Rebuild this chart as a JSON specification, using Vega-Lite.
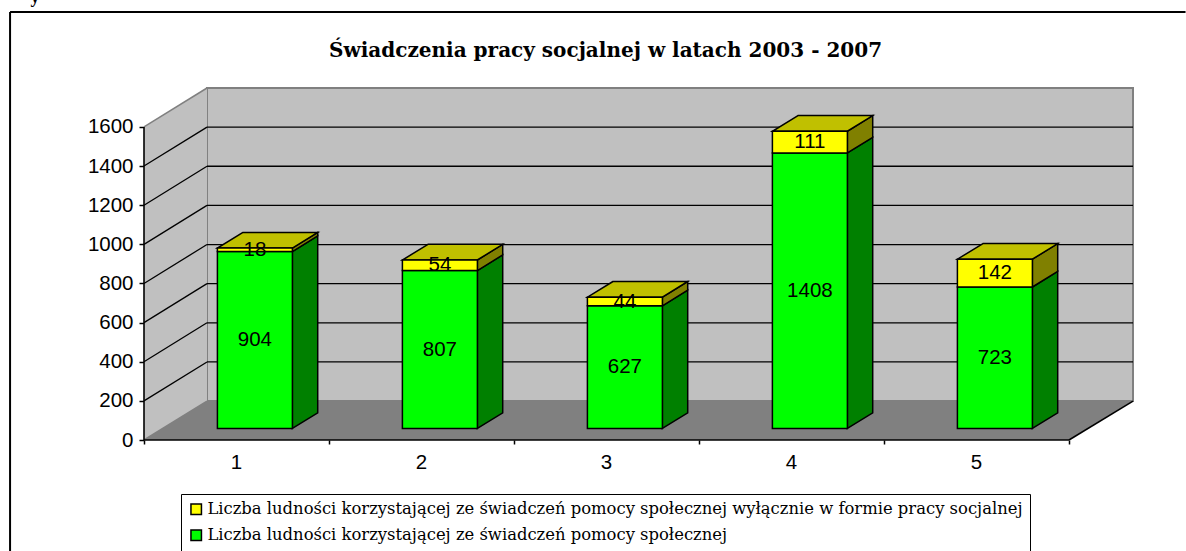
{
"$schema":"https://vega.github.io/schema/vega-lite/v6.json",
"autosize":{"type":"none"},
"padding":{"left":144,"top":88,"right":53,"bottom":111},
"width":989,"height":352,
"background":"white",
"config":{"view":{"stroke":null},"font":"Liberation Sans"},
"datasets":{
"bars":[
{"category":1,"series":"Liczba ludności korzystającej ze świadczeń pomocy społecznej","value":904,"start":0,"end":904,"mid":452},
{"category":1,"series":"Liczba ludności korzystającej ze świadczeń pomocy społecznej wyłącznie w formie pracy socjalnej","value":18,"start":904,"end":922,"mid":913},
{"category":2,"series":"Liczba ludności korzystającej ze świadczeń pomocy społecznej","value":807,"start":0,"end":807,"mid":403.5},
{"category":2,"series":"Liczba ludności korzystającej ze świadczeń pomocy społecznej wyłącznie w formie pracy socjalnej","value":54,"start":807,"end":861,"mid":834},
{"category":3,"series":"Liczba ludności korzystającej ze świadczeń pomocy społecznej","value":627,"start":0,"end":627,"mid":313.5},
{"category":3,"series":"Liczba ludności korzystającej ze świadczeń pomocy społecznej wyłącznie w formie pracy socjalnej","value":44,"start":627,"end":671,"mid":649},
{"category":4,"series":"Liczba ludności korzystającej ze świadczeń pomocy społecznej","value":1408,"start":0,"end":1408,"mid":704},
{"category":4,"series":"Liczba ludności korzystającej ze świadczeń pomocy społecznej wyłącznie w formie pracy socjalnej","value":111,"start":1408,"end":1519,"mid":1463.5},
{"category":5,"series":"Liczba ludności korzystającej ze świadczeń pomocy społecznej","value":723,"start":0,"end":723,"mid":361.5},
{"category":5,"series":"Liczba ludności korzystającej ze świadczeń pomocy społecznej wyłącznie w formie pracy socjalnej","value":142,"start":723,"end":865,"mid":794}
],
"sides":[
{"face":"1g","kind":"green","x":1.302,"low":59,"high":963},{"face":"1g","kind":"green","x":1.439,"low":139,"high":1043},
{"face":"1y","kind":"yellow","x":1.302,"low":963,"high":981},{"face":"1y","kind":"yellow","x":1.439,"low":1043,"high":1061},
{"face":"2g","kind":"green","x":2.302,"low":59,"high":866},{"face":"2g","kind":"green","x":2.439,"low":139,"high":946},
{"face":"2y","kind":"yellow","x":2.302,"low":866,"high":920},{"face":"2y","kind":"yellow","x":2.439,"low":946,"high":1000},
{"face":"3g","kind":"green","x":3.302,"low":59,"high":686},{"face":"3g","kind":"green","x":3.439,"low":139,"high":766},
{"face":"3y","kind":"yellow","x":3.302,"low":686,"high":730},{"face":"3y","kind":"yellow","x":3.439,"low":766,"high":810},
{"face":"4g","kind":"green","x":4.302,"low":59,"high":1467},{"face":"4g","kind":"green","x":4.439,"low":139,"high":1547},
{"face":"4y","kind":"yellow","x":4.302,"low":1467,"high":1578},{"face":"4y","kind":"yellow","x":4.439,"low":1547,"high":1658},
{"face":"5g","kind":"green","x":5.302,"low":59,"high":782},{"face":"5g","kind":"green","x":5.439,"low":139,"high":862},
{"face":"5y","kind":"yellow","x":5.302,"low":782,"high":924},{"face":"5y","kind":"yellow","x":5.439,"low":862,"high":1004}
],
"tops":[
{"face":"1","y":981,"a":0.897,"b":1.302},{"face":"1","y":1061,"a":1.035,"b":1.439},
{"face":"2","y":920,"a":1.897,"b":2.302},{"face":"2","y":1000,"a":2.035,"b":2.439},
{"face":"3","y":730,"a":2.897,"b":3.302},{"face":"3","y":810,"a":3.035,"b":3.439},
{"face":"4","y":1578,"a":3.897,"b":4.302},{"face":"4","y":1658,"a":4.035,"b":4.439},
{"face":"5","y":924,"a":4.897,"b":5.302},{"face":"5","y":1004,"a":5.035,"b":5.439}
],
"wall":[{"a":0.8405,"b":5.846,"low":199,"high":1799}],
"leftWall":[{"x":0.5,"low":0,"high":1600},{"x":0.8405,"low":199,"high":1799}],
"floor":[{"y":0,"a":0.5,"b":5.5},{"y":199,"a":0.8405,"b":5.846}],
"grid":[
{"a":0.5,"b":0.8405,"y":200,"y2":399},{"a":0.8405,"b":5.846,"y":399,"y2":399},
{"a":0.5,"b":0.8405,"y":400,"y2":599},{"a":0.8405,"b":5.846,"y":599,"y2":599},
{"a":0.5,"b":0.8405,"y":600,"y2":799},{"a":0.8405,"b":5.846,"y":799,"y2":799},
{"a":0.5,"b":0.8405,"y":800,"y2":999},{"a":0.8405,"b":5.846,"y":999,"y2":999},
{"a":0.5,"b":0.8405,"y":1000,"y2":1199},{"a":0.8405,"b":5.846,"y":1199,"y2":1199},
{"a":0.5,"b":0.8405,"y":1200,"y2":1399},{"a":0.8405,"b":5.846,"y":1399,"y2":1399},
{"a":0.5,"b":0.8405,"y":1400,"y2":1599},{"a":0.8405,"b":5.846,"y":1599,"y2":1599}
],
"edges":[
{"a":0.5,"b":5.5,"y":0,"y2":0},
{"a":0.5,"b":0.5,"y":0,"y2":1600},
{"a":5.5,"b":5.846,"y":0,"y2":199}
],
"grayEdges":[
{"a":0.5,"b":0.8405,"y":1600,"y2":1799},
{"a":0.5,"b":0.8405,"y":0,"y2":199}
],
"frame":[
{"a":-0.224,"b":-0.224,"y":2187,"y2":-569},
{"a":-0.224,"b":6.13,"y":2187,"y2":2187}
],
"heading":[{"x":2.995,"y":1957,"text":"Świadczenia pracy socjalnej w latach 2003 - 2007"}],
"fragment":[{"x":-0.089,"y":2258,"text":"y"}]
},
"layer":[
{"data":{"name":"wall"},
 "mark":{"type":"rect","fill":"#C0C0C0","stroke":"#808080","strokeWidth":2},
 "encoding":{
  "x":{"field":"a","type":"quantitative","scale":{"domain":[0.5,5.846],"nice":false,"zero":false,"padding":0},
   "axis":{"title":null,"values":[0.5,1.5,2.5,3.5,4.5,5.5],"labelExpr":"datum.value<5 ? format(datum.value+0.5,'d') : ''","labelOffset":92,"labelFontSize":20.5,"labelFont":"Liberation Sans","labelColor":"black","labelPadding":8,"tickColor":"black","tickSize":4,"tickWidth":1.5,"domain":false,"grid":false,"labelFlush":false,"labelOverlap":false}},
  "x2":{"field":"b"},
  "y":{"field":"low","type":"quantitative","scale":{"domain":[0,1799],"nice":false,"zero":false},
   "axis":{"title":null,"values":[0,200,400,600,800,1000,1200,1400,1600],"labelFontSize":20.5,"labelFont":"Liberation Sans","labelColor":"black","labelPadding":6,"tickColor":"black","tickSize":5,"tickWidth":1.5,"domain":false,"grid":false,"labelOverlap":false,"format":"d"}},
  "y2":{"field":"high"}}},
{"data":{"name":"leftWall"},
 "mark":{"type":"area","fill":"#C0C0C0"},
 "encoding":{
  "x":{"field":"x","type":"quantitative","axis":{"title":null},"scale":{"domain":[0.5,5.846],"nice":false,"zero":false,"padding":0}},
  "y":{"field":"low","type":"quantitative","axis":{"title":null},"scale":{"domain":[0,1799],"nice":false,"zero":false}},
  "y2":{"field":"high"}}},
{"data":{"name":"floor"},
 "mark":{"type":"area","fill":"#808080","orient":"horizontal"},
 "encoding":{
  "y":{"field":"y","type":"quantitative","axis":{"title":null},"scale":{"domain":[0,1799],"nice":false,"zero":false}},
  "x":{"field":"a","type":"quantitative","axis":{"title":null},"scale":{"domain":[0.5,5.846],"nice":false,"zero":false,"padding":0}},
  "x2":{"field":"b"}}},
{"data":{"name":"grayEdges"},
 "mark":{"type":"rule","stroke":"#808080","strokeWidth":1.5},
 "encoding":{
  "x":{"field":"a","type":"quantitative","axis":{"title":null},"scale":{"domain":[0.5,5.846],"nice":false,"zero":false,"padding":0}},
  "x2":{"field":"b"},
  "y":{"field":"y","type":"quantitative","axis":{"title":null},"scale":{"domain":[0,1799],"nice":false,"zero":false}},
  "y2":{"field":"y2"}}},
{"data":{"name":"grid"},
 "mark":{"type":"rule","stroke":"black","strokeWidth":1.3},
 "encoding":{
  "x":{"field":"a","type":"quantitative","axis":{"title":null},"scale":{"domain":[0.5,5.846],"nice":false,"zero":false,"padding":0}},
  "x2":{"field":"b"},
  "y":{"field":"y","type":"quantitative","axis":{"title":null},"scale":{"domain":[0,1799],"nice":false,"zero":false}},
  "y2":{"field":"y2"}}},
{"data":{"name":"edges"},
 "mark":{"type":"rule","stroke":"black","strokeWidth":1.6},
 "encoding":{
  "x":{"field":"a","type":"quantitative","axis":{"title":null},"scale":{"domain":[0.5,5.846],"nice":false,"zero":false,"padding":0}},
  "x2":{"field":"b"},
  "y":{"field":"y","type":"quantitative","axis":{"title":null},"scale":{"domain":[0,1799],"nice":false,"zero":false}},
  "y2":{"field":"y2"}}},
{"data":{"name":"sides"},
 "mark":{"type":"area","stroke":"black","strokeWidth":1.5},
 "encoding":{
  "x":{"field":"x","type":"quantitative","axis":{"title":null},"scale":{"domain":[0.5,5.846],"nice":false,"zero":false,"padding":0}},
  "y":{"field":"low","type":"quantitative","axis":{"title":null},"scale":{"domain":[0,1799],"nice":false,"zero":false}},
  "y2":{"field":"high"},
  "detail":{"field":"face"},
  "fill":{"condition":{"test":"datum.kind==='green'","value":"#008000"},"value":"#808000"}}},
{"data":{"name":"tops"},
 "mark":{"type":"area","orient":"horizontal","fill":"#C0C000","stroke":"black","strokeWidth":1.5},
 "encoding":{
  "y":{"field":"y","type":"quantitative","axis":{"title":null},"scale":{"domain":[0,1799],"nice":false,"zero":false}},
  "x":{"field":"a","type":"quantitative","axis":{"title":null},"scale":{"domain":[0.5,5.846],"nice":false,"zero":false,"padding":0}},
  "x2":{"field":"b"},
  "detail":{"field":"face"}}},
{"data":{"name":"bars"},
 "mark":{"type":"bar","size":75,"xOffset":18.4,"yOffset":-11.5,"y2Offset":-11.5,"stroke":"black","strokeWidth":1.5},
 "encoding":{
  "x":{"field":"category","type":"quantitative","axis":{"title":null},"scale":{"domain":[0.5,5.846],"nice":false,"zero":false,"padding":0}},
  "y":{"field":"start","type":"quantitative","axis":{"title":null},"scale":{"domain":[0,1799],"nice":false,"zero":false}},
  "y2":{"field":"end"},
  "fill":{"field":"series","type":"nominal","scale":{"domain":["Liczba ludności korzystającej ze świadczeń pomocy społecznej wyłącznie w formie pracy socjalnej","Liczba ludności korzystającej ze świadczeń pomocy społecznej"],"range":["#FFFF00","#00FF00"]},
   "legend":{"title":null,"orient":"none","legendX":37,"legendY":406,"direction":"vertical","columns":1,"labelFont":"DejaVu Serif","labelFontSize":16.4,"labelColor":"black","labelLimit":1000,"symbolType":"square","symbolSize":110,"symbolStrokeColor":"black","symbolStrokeWidth":1.5,"strokeColor":"black","fillColor":"white","padding":7,"rowPadding":8,"labelOffset":3}}}},
{"data":{"name":"bars"},
 "mark":{"type":"text","font":"Liberation Sans","fontSize":20.5,"color":"black","xOffset":18.4,"yOffset":-11.5,"baseline":"middle"},
 "encoding":{
  "x":{"field":"category","type":"quantitative","axis":{"title":null},"scale":{"domain":[0.5,5.846],"nice":false,"zero":false,"padding":0}},
  "y":{"field":"mid","type":"quantitative","axis":{"title":null},"scale":{"domain":[0,1799],"nice":false,"zero":false}},
  "text":{"field":"value","type":"quantitative"}}},
{"data":{"name":"frame"},
 "mark":{"type":"rule","stroke":"black","strokeWidth":2},
 "encoding":{
  "x":{"field":"a","type":"quantitative","axis":{"title":null},"scale":{"domain":[0.5,5.846],"nice":false,"zero":false,"padding":0}},
  "x2":{"field":"b"},
  "y":{"field":"y","type":"quantitative","axis":{"title":null},"scale":{"domain":[0,1799],"nice":false,"zero":false}},
  "y2":{"field":"y2"}}},
{"data":{"name":"heading"},
 "mark":{"type":"text","font":"DejaVu Serif","fontSize":20,"fontWeight":"bold","color":"black","align":"center","baseline":"alphabetic"},
 "encoding":{
  "x":{"field":"x","type":"quantitative","axis":{"title":null},"scale":{"domain":[0.5,5.846],"nice":false,"zero":false,"padding":0}},
  "y":{"field":"y","type":"quantitative","axis":{"title":null},"scale":{"domain":[0,1799],"nice":false,"zero":false}},
  "text":{"field":"text","type":"nominal"}}},
{"data":{"name":"fragment"},
 "mark":{"type":"text","font":"Liberation Serif","fontSize":18,"fontWeight":"bold","color":"black"},
 "encoding":{
  "x":{"field":"x","type":"quantitative","axis":{"title":null},"scale":{"domain":[0.5,5.846],"nice":false,"zero":false,"padding":0}},
  "y":{"field":"y","type":"quantitative","axis":{"title":null},"scale":{"domain":[0,1799],"nice":false,"zero":false}},
  "text":{"field":"text","type":"nominal"}}}
]
}
